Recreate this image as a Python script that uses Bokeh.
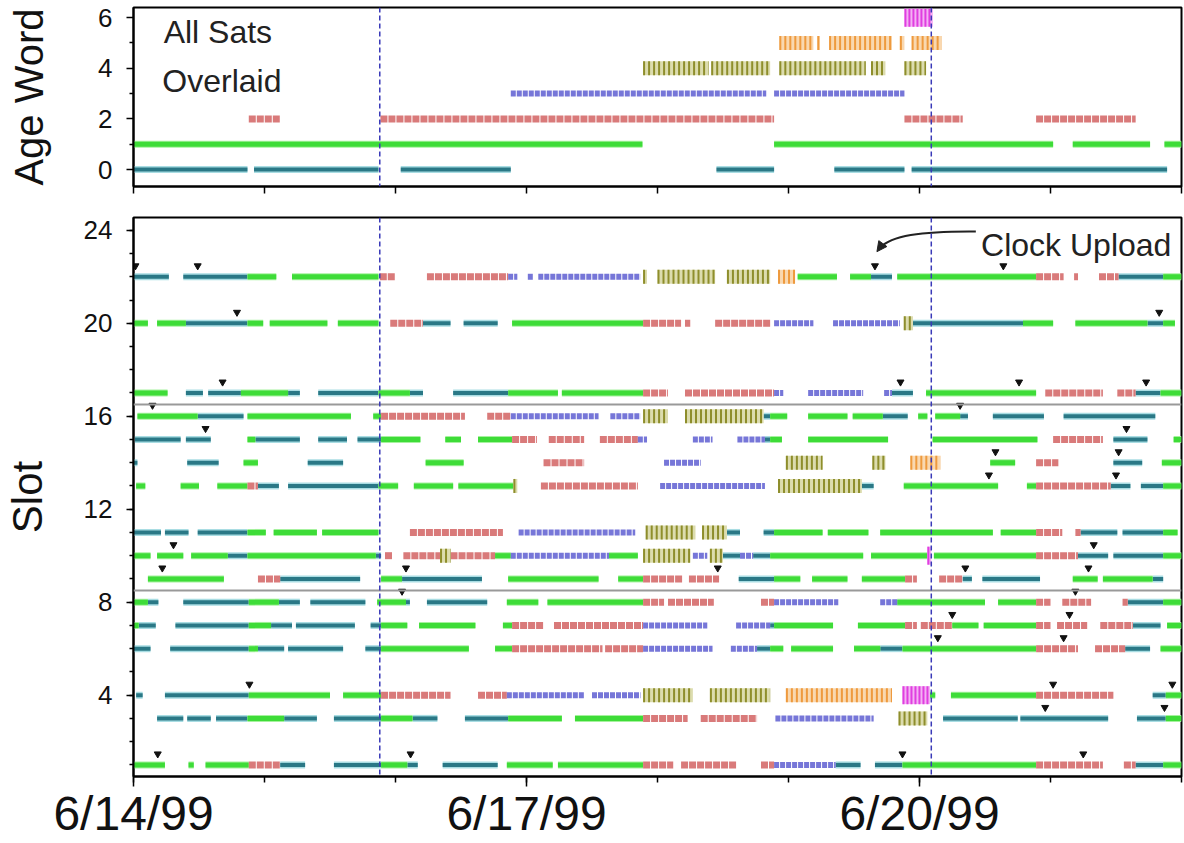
import pandas as pd
from bokeh.plotting import figure
from bokeh.layouts import column
from bokeh.models import (ColumnDataSource, Range1d, FixedTicker, Span, Label,
                          Arrow, NormalHead)
from bokeh.embed import file_html
from bokeh.resources import INLINE

START = pd.Timestamp("1999-06-14")

# ---- data: per-slot segments (start_day, end_day, age_word); days after 6/14/99 00:00
slot22 = [(0.0,0.27,0),(0.38,0.87,0),(0.87,1.09,1),(1.21,1.87,1),(1.88,2.0,2),(2.24,2.86,2),(2.86,2.93,3),(3.01,3.05,3),(3.09,3.87,3),(3.89,3.92,4),(4.0,4.44,4),(4.53,4.86,4),(4.92,5.05,5),(5.07,5.37,1),(5.47,5.63,1),(5.63,5.79,0),(5.83,6.89,1),(6.89,7.1,2),(7.18,7.21,2),(7.37,7.52,2),(7.52,7.86,0),(7.86,8.0,1)]
slot20 = [(0.0,0.11,1),(0.18,0.4,1),(0.4,0.87,0),(0.87,0.99,1),(1.04,1.48,1),(1.56,1.87,1),(1.96,2.21,2),(2.21,2.42,0),(2.52,2.78,0),(2.89,3.89,1),(3.89,4.18,2),(4.21,4.25,2),(4.44,4.86,2),(4.89,5.19,3),(5.34,5.85,3),(5.88,5.95,4),(5.95,6.79,0),(6.79,7.02,1),(7.19,7.74,1),(7.74,7.86,0),(7.86,7.95,1)]
slot17 = [(0.0,0.26,1),(0.4,0.53,0),(0.57,0.82,0),(0.82,1.18,1),(1.18,1.27,0),(1.41,1.87,0),(1.87,2.11,1),(2.11,2.21,0),(2.44,2.86,0),(2.86,3.24,1),(3.27,3.89,1),(3.89,4.08,2),(4.21,4.89,2),(4.89,4.96,3),(5.15,5.57,3),(5.73,5.79,3),(5.79,5.95,0),(6.05,6.89,1),(6.96,7.4,2),(7.51,7.65,2),(7.65,7.84,0),(7.84,8.0,1)]
slot16 = [(0.03,0.49,1),(0.49,0.84,0),(0.87,1.66,1),(1.83,1.89,1),(1.89,2.53,2),(2.7,2.88,2),(2.88,3.55,3),(3.64,3.87,3),(3.89,4.08,4),(4.21,4.81,4),(4.81,4.86,0),(4.86,4.99,1),(5.15,5.45,1),(5.49,5.72,1),(5.72,5.91,0),(5.99,6.06,1),(6.12,6.31,1),(6.31,6.37,0),(6.56,6.95,0),(7.1,7.8,0)]
slot15 = [(0.01,0.36,0),(0.4,0.59,0),(0.87,0.93,1),(0.93,1.27,0),(1.41,1.63,0),(1.71,1.89,0),(1.89,2.19,1),(2.38,2.5,1),(2.63,2.89,1),(2.89,3.08,2),(3.17,3.44,2),(3.56,3.85,2),(3.85,3.92,3),(4.27,4.42,3),(4.61,4.82,3),(4.82,4.86,0),(4.86,4.95,1),(5.15,5.76,1),(6.1,6.9,1),(7.02,7.4,2),(7.48,7.74,0),(7.94,8.0,1)]
slot14 = [(0.0,0.03,0),(0.41,0.65,0),(0.84,0.95,1),(1.33,1.6,0),(2.23,2.52,1),(3.13,3.44,2),(4.05,4.33,3),(4.98,5.26,4),(5.64,5.74,4),(5.93,6.16,5),(6.54,6.73,1),(6.89,7.06,2),(7.48,7.7,0),(7.85,8.0,1)]
slot13 = [(0.02,0.09,1),(0.36,0.5,1),(0.64,0.87,1),(0.87,0.95,2),(0.95,1.11,0),(1.18,1.87,0),(1.87,2.02,1),(2.14,2.44,1),(2.48,2.9,1),(2.9,2.93,4),(3.11,3.85,2),(4.02,4.82,3),(4.92,5.56,4),(5.56,5.65,0),(5.88,6.6,1),(6.82,6.89,1),(6.89,7.46,2),(7.46,7.61,0),(7.69,7.86,0),(7.86,8.0,1)]
slot11 = [(0.0,0.21,0),(0.24,0.42,0),(0.49,0.87,0),(0.87,1.01,1),(1.07,1.4,1),(1.44,1.87,1),(2.11,2.82,2),(2.94,3.83,3),(3.91,4.29,4),(4.34,4.53,4),(4.53,4.63,0),(4.81,4.89,0),(4.89,5.26,1),(5.3,5.61,1),(5.7,6.56,1),(6.62,6.89,1),(6.89,7.09,2),(7.19,7.23,2),(7.23,7.51,0),(7.55,7.86,0),(7.86,7.97,1)]
slot10 = [(0.0,0.13,1),(0.18,0.38,1),(0.44,0.72,1),(0.72,0.87,0),(0.87,1.85,1),(1.85,1.89,0),(1.92,1.98,2),(2.06,2.34,2),(2.34,2.42,4),(2.42,2.76,2),(2.76,2.88,1),(2.88,3.63,3),(3.63,3.85,1),(3.89,4.25,4),(4.27,4.38,3),(4.4,4.5,4),(4.5,4.63,0),(4.63,4.73,3),(4.73,4.86,0),(4.86,5.57,1),(5.63,6.06,1),(6.06,6.09,6),(6.11,6.89,1),(6.89,7.21,2),(7.21,7.44,0),(7.48,7.86,0),(7.86,8.0,1)]
slot9 = [(0.11,0.69,1),(0.95,1.12,2),(1.12,1.73,0),(1.89,2.05,1),(2.05,2.66,0),(2.86,3.55,1),(3.7,3.89,1),(3.89,4.19,2),(4.24,4.47,2),(4.62,4.89,0),(4.89,5.09,1),(5.18,5.45,1),(5.56,5.89,1),(5.89,5.98,2),(6.15,6.33,2),(6.33,6.4,0),(6.48,6.92,0),(7.17,7.36,1),(7.4,7.78,1),(7.78,7.86,0)]
slot8 = [(0.0,0.11,1),(0.11,0.19,0),(0.38,0.88,0),(0.88,1.11,1),(1.11,1.27,0),(1.35,1.77,0),(1.86,2.08,1),(2.08,2.11,0),(2.24,2.7,0),(2.85,3.09,1),(3.16,3.89,1),(3.89,4.05,2),(4.08,4.43,2),(4.79,4.89,2),(4.89,5.38,3),(5.7,5.83,3),(5.83,6.5,1),(6.6,6.89,1),(6.89,7.0,2),(7.09,7.31,2),(7.55,7.59,2),(7.59,7.86,0),(7.86,8.0,1)]
slot7 = [(0.0,0.04,1),(0.04,0.17,0),(0.32,0.88,0),(0.88,1.05,1),(1.05,1.21,0),(1.24,1.69,0),(1.81,1.89,0),(1.89,2.09,1),(2.18,2.61,1),(2.82,2.89,1),(2.89,3.13,2),(3.21,3.89,2),(3.89,4.38,3),(4.6,4.86,3),(4.86,4.89,0),(4.89,5.34,1),(5.53,5.89,1),(5.89,5.98,2),(6.01,6.25,2),(6.25,6.45,1),(6.49,6.89,1),(6.89,7.0,2),(7.05,7.28,2),(7.38,7.63,2),(7.63,7.84,0),(7.89,8.0,1)]
slot6 = [(0.0,0.13,0),(0.28,0.88,0),(0.88,0.95,1),(0.95,1.15,0),(1.18,1.6,0),(1.77,1.89,0),(1.89,2.56,1),(2.76,2.89,1),(2.89,3.58,2),(3.6,3.89,2),(3.89,4.42,3),(4.56,4.76,3),(4.76,4.86,0),(4.86,4.96,1),(5.02,5.34,1),(5.5,5.7,1),(5.7,5.87,0),(5.87,6.89,1),(6.89,7.21,2),(7.34,7.57,2),(7.57,7.76,0),(7.84,8.0,1)]
slot4 = [(0.02,0.07,0),(0.24,0.88,0),(0.88,1.5,1),(1.6,1.89,1),(1.89,2.42,2),(2.63,2.85,2),(2.85,3.44,3),(3.5,3.87,3),(3.89,4.27,4),(4.4,4.86,4),(4.98,5.79,5),(5.87,6.08,6),(6.08,6.12,1),(6.24,6.89,1),(6.89,7.48,2),(7.78,7.88,0),(7.88,8.0,1)]
slot3 = [(0.18,0.38,0),(0.41,0.59,0),(0.63,0.87,0),(0.87,1.15,1),(1.15,1.4,0),(1.53,1.89,0),(1.89,2.13,1),(2.13,2.32,0),(2.53,2.86,0),(2.86,3.27,1),(3.37,3.89,1),(3.89,4.23,2),(4.33,4.76,2),(4.9,5.65,3),(5.84,6.06,4),(6.18,6.75,0),(6.77,7.44,0),(7.66,7.88,0),(7.88,8.0,1)]
slot1 = [(0.0,0.24,1),(0.42,0.46,1),(0.55,0.88,1),(0.88,1.12,2),(1.12,1.31,0),(1.53,1.89,0),(1.89,2.09,1),(2.09,2.17,0),(2.36,2.78,0),(2.85,3.2,1),(3.24,3.89,1),(3.89,4.12,2),(4.18,4.6,2),(4.79,4.89,2),(4.89,5.36,3),(5.36,5.55,0),(5.66,5.87,0),(5.87,6.89,1),(6.89,7.4,2),(7.56,7.65,2),(7.65,7.86,0),(7.86,8.0,1)]

# ---- top panel: all satellites overlaid, (start_day, end_day) per age word
age0_all = [(0.0,0.87),(0.92,1.87),(2.04,2.88),(4.45,4.89),(5.35,5.885),(5.94,7.89)]
age1_all = [(0.0,3.885),(4.89,7.02),(7.17,7.76),(7.87,8.0)]
age2_all = [(0.88,1.12),(1.885,4.89),(5.885,6.33),(6.89,7.65)]
age3_all = [(2.88,4.83),(4.89,5.885)]
age4_all = [(3.89,4.39),(4.41,4.86),(4.93,5.59),(5.63,5.74),(5.885,6.05)]
age5_all = [(4.93,5.19),(5.22,5.24),(5.31,5.79),(5.85,5.885),(5.94,6.17)]
age6_all = [(5.885,6.1)]

# ---- clock uploads
upload_day = [0.015,0.49,5.66,6.64, 0.79,7.83, 0.68,5.855,6.76,7.73, 0.145,6.31, 0.55,7.58,
              6.58,7.52, 6.53,7.5, 0.305,7.33, 0.22,2.08,4.46,6.35,7.29, 2.05,7.19, 6.25,7.145,
              6.14,7.1, 0.885,7.02,7.93, 6.96,7.87, 0.185,2.115,5.87,7.25]
upload_slot = [22,22,22,22, 20,20, 17,17,17,17, 16,16, 15,15, 14,14, 13,13, 10,10, 9,9,9,9,9,
               8,8, 7,7, 6,6, 4,4,4, 3,3, 1,1,1,1]

tick_days = [0, 3, 6]
tick_labels = ["6/14/99", "6/17/99", "6/20/99"]
minor_days = list(range(0, 9))
event_days = [1.88, 6.09]
slot_dividers = [16.5, 8.5]

# ---------------------------------------------------------------------------
def ms(d):
    return (START + pd.Timedelta(days=d)).timestamp() * 1000.0

def to_dt(days):
    return [START + pd.Timedelta(days=d) for d in days]

FONT = "Liberation Sans"
STYLE = {
    0: [("#a9dde3", 7, "solid"), ("#2a7886", 4, "solid")],
    1: [("#a6f29e", 7, "solid"), ("#3edc38", 5, "solid")],
    2: [("#d97a7a", 7, "7 1")],
    3: [("#7676d8", 6, "5 1")],
    4: [("#dcdcae", 14, "solid"), ("#8e8e2c", 14, "2 3")],
    5: [("#f9d8b0", 14, "solid"), ("#ee9a3e", 14, "2 3")],
    6: [("#f4b2f4", 18, "solid"), ("#e03ee0", 18, "2 2")],
}

def draw(p, x0, x1, y, age):
    if not x0:
        return
    src = ColumnDataSource(dict(x0=to_dt(x0), x1=to_dt(x1), y=y))
    for color, w, dash in STYLE[age]:
        p.segment(x0="x0", y0="y", x1="x1", y1="y", source=src, line_color=color,
                  line_width=w, line_dash=dash, line_cap="butt")

xr = Range1d(ms(0), ms(8))
major_ms = [ms(d) for d in tick_days]
minor_ms = [ms(d) for d in minor_days]

def style_common(p):
    p.xgrid.visible = False
    p.ygrid.visible = False
    p.outline_line_color = "black"
    p.outline_line_width = 2
    p.background_fill_color = "white"
    p.border_fill_color = "white"
    for ax in p.axis:
        ax.axis_line_color = "black"
        ax.axis_line_width = 2
        ax.major_tick_line_color = "black"
        ax.minor_tick_line_color = "black"
        ax.major_tick_line_width = 1.5
        ax.minor_tick_line_width = 1.5
        ax.major_tick_in = 0
        ax.minor_tick_in = 0
        ax.major_label_text_font = FONT
        ax.major_label_text_color = "#111111"
        ax.axis_label_text_font = FONT
        ax.axis_label_text_font_style = "normal"
        ax.axis_label_text_color = "#111111"

# ---- top panel
p1 = figure(width=1184, height=206, x_range=xr, y_range=Range1d(-0.67, 6.4),
            x_axis_type="datetime", output_backend="svg", toolbar_location=None,
            min_border_left=133, min_border_right=3, min_border_top=7, min_border_bottom=20)
style_common(p1)
top_sets = [age0_all, age1_all, age2_all, age3_all, age4_all, age5_all, age6_all]
for age, segs in enumerate(top_sets):
    draw(p1, [s[0] for s in segs], [s[1] for s in segs], [age] * len(segs), age)

# top panel: day ticks only, no labels
p1.xaxis.ticker = FixedTicker(ticks=[], minor_ticks=minor_ms)
p1.xaxis.minor_tick_out = 7
p1.yaxis.ticker = FixedTicker(ticks=[0, 2, 4, 6], minor_ticks=[1, 3, 5])
p1.yaxis.major_label_text_font_size = "26px"
p1.yaxis.major_tick_out = 7
p1.yaxis.minor_tick_out = 4
p1.yaxis.major_label_standoff = 14
p1.yaxis.axis_label = "Age Word"
p1.yaxis.axis_label_text_font_size = "40px"
p1.yaxis.axis_label_standoff = 44

p1.add_layout(Label(x=ms(0.23), y=5.45, text="All Sats", text_font=FONT, text_font_size="32px",
                    text_baseline="middle", text_color="#222222"))
p1.add_layout(Label(x=ms(0.22), y=3.5, text="Overlaid", text_font=FONT, text_font_size="32px",
                    text_baseline="middle", text_color="#222222"))

# ---- bottom panel
p2 = figure(width=1184, height=636, x_range=xr, y_range=Range1d(0.5, 24.55),
            x_axis_type="datetime", output_backend="svg", toolbar_location=None,
            min_border_left=133, min_border_right=3, min_border_top=11, min_border_bottom=64)
style_common(p2)

slot_rows = [(22, slot22), (20, slot20), (17, slot17), (16, slot16), (15, slot15), (14, slot14),
             (13, slot13), (11, slot11), (10, slot10), (9, slot9), (8, slot8), (7, slot7),
             (6, slot6), (4, slot4), (3, slot3), (1, slot1)]
for age in range(7):
    x0, x1, y = [], [], []
    for slot, segs in slot_rows:
        for s, e, a in segs:
            if a == age:
                x0.append(s); x1.append(e); y.append(slot)
    draw(p2, x0, x1, y, age)

for yv in slot_dividers:
    p2.add_layout(Span(location=yv, dimension="width", line_color="#999999", line_width=2))

p2.scatter(x=to_dt(upload_day), y=[s + 0.47 for s in upload_slot], marker="inverted_triangle",
           size=7, color="#111111")

p2.xaxis.ticker = FixedTicker(ticks=major_ms, minor_ticks=minor_ms)
p2.xaxis.major_label_overrides = {m: lab for m, lab in zip(major_ms, tick_labels)}
p2.xaxis.major_label_text_font_size = "48px"
p2.xaxis.major_tick_out = 10
p2.xaxis.minor_tick_out = 6
p2.xaxis.major_label_standoff = 0
p2.yaxis.ticker = FixedTicker(ticks=[4, 8, 12, 16, 20, 24], minor_ticks=list(range(1, 25)))
p2.yaxis.major_label_text_font_size = "26px"
p2.yaxis.major_tick_out = 7
p2.yaxis.minor_tick_out = 4
p2.yaxis.major_label_standoff = 14
p2.yaxis.axis_label = "Slot"
p2.yaxis.axis_label_text_font_size = "42px"
p2.yaxis.axis_label_standoff = 30

# Clock upload annotation
p2.add_layout(Label(x=ms(6.47), y=23.35, text="Clock Upload", text_font=FONT, text_font_size="32px",
                    text_baseline="middle", text_color="#222222"))
p2.bezier(x0=[ms(6.43)], y0=[23.95], x1=[ms(5.70)], y1=[23.25], cx0=[ms(6.0)], cy0=[23.97],
          cx1=[ms(5.78)], cy1=[23.75], line_color="#222222", line_width=2)
p2.add_layout(Arrow(end=NormalHead(size=10, fill_color="#222222", line_color="#222222"),
                    x_start=ms(5.71), y_start=23.35, x_end=ms(5.675), y_end=23.08,
                    line_color="#222222", line_width=2))

for p in (p1, p2):
    for d in event_days:
        p.add_layout(Span(location=ms(d), dimension="height", line_color="#3a3ab8",
                          line_dash="5 3", line_width=1.5))

layout = column(p1, p2, spacing=0)
open("out.html", "w").write(file_html(layout, INLINE))
